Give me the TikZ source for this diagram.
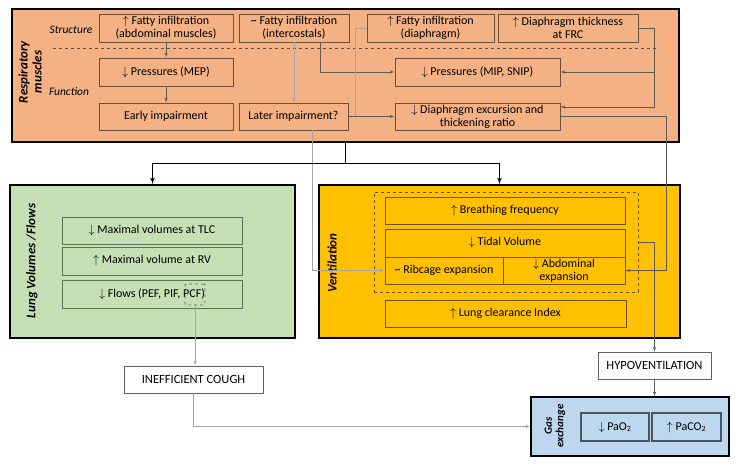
\documentclass[tikz,border=0pt]{standalone}
\usepackage{fontspec}
\setmainfont{Carlito}
\usetikzlibrary{arrows, calc}
\definecolor{orangefill}{RGB}{244,177,131}
\definecolor{greenfill}{RGB}{197,224,180}
\definecolor{yellowfill}{RGB}{255,192,0}
\definecolor{bluefill}{RGB}{189,215,238}
\definecolor{orangeedge}{RGB}{112,78,55}
\definecolor{greenedge}{RGB}{95,110,85}
\definecolor{yellowedge}{RGB}{105,82,30}
\definecolor{blueedge}{RGB}{75,85,95}
\definecolor{linkgray}{RGB}{95,90,85}
\definecolor{faintgray}{RGB}{165,165,165}
\newcommand{\incr}{$\uparrow$\ }
\newcommand{\decr}{$\downarrow$\ }
\newcommand{\tld}{\textasciitilde\ }
\tikzset{
  panel/.style={draw=black, line width=1.6pt, inner sep=0pt},
  cell/.style={draw=#1, line width=0.8pt, inner sep=0pt, align=center,
    font=\fontsize{12}{13}\selectfont},
  orangecell/.style={cell=orangeedge, fill=orangefill},
  greencell/.style={cell=greenedge, fill=greenfill},
  yellowcell/.style={cell=yellowedge, fill=yellowfill},
  bluecell/.style={cell=blueedge, fill=bluefill, line width=1.2pt},
  whitecell/.style={cell=gray!75!black, fill=white, line width=0.6pt,
    font=\fontsize{12.5}{14}\selectfont},
  caption/.style={inner sep=0pt, align=center,
    font=\fontsize{13}{14}\selectfont\bfseries\itshape},
  subcaption/.style={inner sep=0pt, font=\fontsize{11.5}{13}\selectfont\itshape},
  link/.style={draw=linkgray, line width=0.6pt},
  faint/.style={draw=faintgray, line width=0.6pt},
  trunk/.style={draw=black, line width=1.2pt}
}

\begin{document}
\begin{tikzpicture}[>=latex', x=1pt, y=-1pt]
\useasboundingbox (0,0) rectangle (739,465);
\node[panel, fill=orangefill, minimum width=667, minimum height=133] at (345.5,75.5) (muscles) {};
\node[caption, rotate=90] at (30,72) (musclestitle) {Respiratory\\muscles};
\node[subcaption] at (71,30) (structure) {Structure};
\node[subcaption] at (69,92) (function) {Function};
\coordinate (sepL) at (53,48);
\coordinate (sepR) at (659,48);
\draw[orangeedge, dashed, line width=0.5pt] (sepL) -- (sepR);
\node[orangecell, minimum width=134, minimum height=28] at (166,28) (fatabd) {\incr Fatty infiltration\\(abdominal muscles)};
\node[orangecell, minimum width=110, minimum height=28] at (294,28) (fatint) {\tld Fatty infiltration\\(intercostals)};
\node[orangecell, minimum width=127, minimum height=28] at (430.5,28) (fatdia) {\incr Fatty infiltration\\(diaphragm)};
\node[orangecell, minimum width=140, minimum height=28] at (568,28) (dthick) {\incr Diaphragm thickness\\at FRC};
\node[orangecell, minimum width=134, minimum height=28] at (166,72) (mep) {\decr Pressures (MEP)};
\node[orangecell, minimum width=134, minimum height=27] at (166,116.5) (early) {Early impairment};
\node[orangecell, minimum width=109, minimum height=27] at (293.5,116.5) (later) {Later impairment?};
\node[orangecell, minimum width=165, minimum height=28] at (477.5,72) (mip) {\decr Pressures (MIP, SNIP)};
\node[orangecell, minimum width=165, minimum height=27] at (477.5,116.5) (excur) {\decr Diaphragm excursion and\\thickening ratio};

\node[panel, fill=greenfill, minimum width=285, minimum height=153] at (152.5,261.5) (lung) {};
\node[caption, rotate=90] at (32,261) (lungtitle) {Lung Volumes /Flows};
\node[greencell, minimum width=180, minimum height=27] at (152,230.5) (tlc) {\decr Maximal volumes at TLC};
\node[greencell, minimum width=180, minimum height=28] at (152,261) (rv) {\incr Maximal volume at RV};
\node[greencell, minimum width=180, minimum height=28] at (152,294) (flows) {\decr Flows (PEF, PIF, PCF)};
\node[draw=gray!80!black, dashed, line width=0.8pt, rounded corners=1pt, minimum width=20, minimum height=21] at (195,294.5) (pcf) {};

\node[panel, fill=yellowfill, minimum width=361, minimum height=153] at (499.5,261.5) (vent) {};
\node[caption, rotate=90] at (332,263) (venttitle) {Ventilation};
\node[draw=yellowedge, dashed, line width=0.6pt, minimum width=264, minimum height=100] at (506,242) (vitals) {};
\node[yellowcell, minimum width=240, minimum height=27] at (505,210.5) (breath) {\incr Breathing frequency};
\node[yellowcell, minimum width=240, minimum height=28] at (505,243) (tidal) {\decr Tidal Volume};
\node[yellowcell, minimum width=118, minimum height=27] at (444,270.5) (rib) {\tld Ribcage expansion};
\node[yellowcell, minimum width=122, minimum height=27] at (564,270.5) (abd) {\decr Abdominal\\expansion};
\node[yellowcell, minimum width=241, minimum height=27] at (505.5,313.5) (lci) {\incr Lung clearance Index};

\node[whitecell, minimum width=139, minimum height=27] at (193.5,379.5) (cough) {INEFFICIENT COUGH};
\node[whitecell, minimum width=113, minimum height=27] at (654.5,365.5) (hypo) {HYPOVENTILATION};
\node[panel, fill=bluefill, minimum width=198, minimum height=59] at (630,426.5) (gas) {};
\node[caption, rotate=90, font=\fontsize{11}{11.5}\selectfont\bfseries\itshape] at (555,426) (gastitle) {Gas\\exchange};
\node[bluecell, minimum width=68, minimum height=28, font=\fontsize{12}{13}\selectfont] at (615,427) (pao) {\decr PaO\textsubscript{2}};
\node[bluecell, minimum width=69, minimum height=28, font=\fontsize{12}{13}\selectfont] at (686.5,427) (paco) {\incr PaCO\textsubscript{2}};

\path (fatabd) edge[link, ->] (mep);
\path (mep) edge[link, ->] (early);
\path (fatint.south) edge[faint, ->] (fatint.south |- later.north);
\draw[link, ->] ([xshift=26pt]fatint.south) |- (mip.west);
\path (later) edge[link, ->] (excur);
\coordinate (diajoin) at (355,116.5);
\draw[faint] (fatdia.west) -| (diajoin);
\coordinate (thickdrop) at (654,107);
\draw[link, ->] (dthick.east) -| (thickdrop) -- (thickdrop -| excur.east);
\draw[link, ->] (thickdrop |- mip) -- (mip.east);
\coordinate (excurdrop) at (666,116.5);
\draw[link, ->] (excur.east) -- (excurdrop) |- (abd.east);
\draw[faint, ->] ([xshift=18.5pt]later.south) |- (rib.west);
\draw[trunk, ->] (muscles.south) -- ++(0,21) -| (lung.north);
\draw[trunk, ->] (muscles.south) ++(0,21) -| (vent.north);
\path (pcf.south) edge[faint, ->] (pcf.south |- cough.north);
\draw[faint, ->] (cough.south) |- (gas.west);
\draw[link, ->] (vitals.east) -| (hypo.north);
\draw[link, ->] (hypo.south) -- (hypo.south |- gas.north);
\end{tikzpicture}
\end{document}
